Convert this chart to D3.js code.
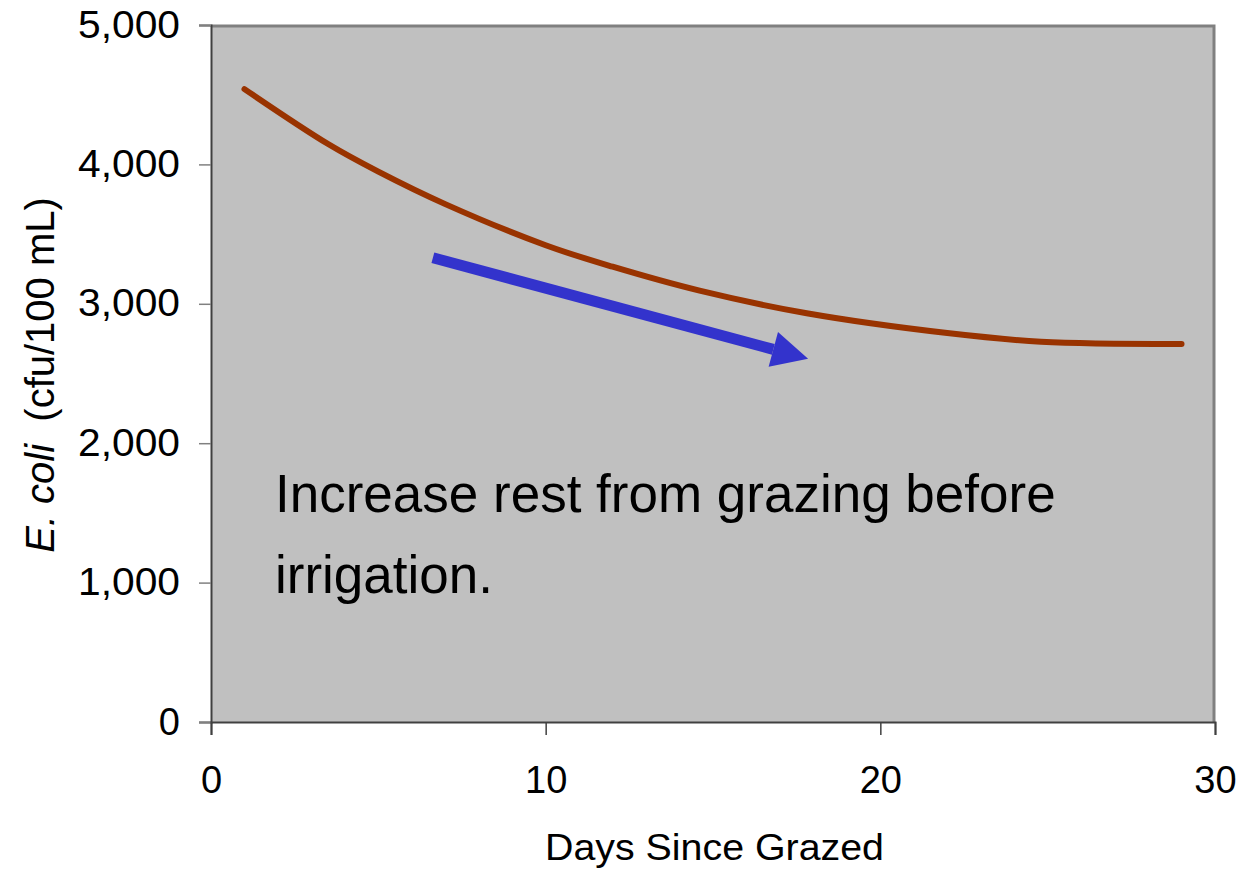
<!DOCTYPE html>
<html>
<head>
<meta charset="utf-8">
<script src="https://cdn.jsdelivr.net/npm/d3@7"></script>
<style>
  html, body { margin: 0; padding: 0; background: #fff; }
  svg { display: block; font-family: "Liberation Sans", Arial, sans-serif; }
</style>
</head>
<body>
<svg id="chart" width="1251" height="871"></svg>
<script>
// ---------- data ----------
const days = [1, 3.5, 5, 7, 10, 12, 14.6, 17.8, 22, 24.8, 29];
const ecoli = [4540, 4146, 3948, 3715, 3420, 3266, 3094, 2932, 2790, 2728, 2712];
const xTicks = [0, 10, 20, 30];
const yTicks = [0, 1000, 2000, 3000, 4000, 5000];
const arrowFrom = [6.63, 3330];
const arrowTo = [17.87, 2604];
const noteLines = ["Increase rest from grazing before", "irrigation."];

const svg = d3.select("#chart");
const plot = { left: 211, top: 25, right: 1215, bottom: 722 };

const x = d3.scaleLinear().domain([0, 30]).range([plot.left, plot.right]);
const y = d3.scaleLinear().domain([0, 5000]).range([plot.bottom, plot.top]);

// plot area
svg.append("rect")
  .attr("x", plot.left).attr("y", plot.top)
  .attr("width", plot.right - plot.left).attr("height", plot.bottom - plot.top)
  .attr("fill", "#c0c0c0");
// top + right frame (gray)
svg.append("path")
  .attr("d", `M${plot.left},${plot.top + 1}H${plot.right - 1}V${plot.bottom}`)
  .attr("fill", "none").attr("stroke", "#808080").attr("stroke-width", 3);

// axes
const yAxis = d3.axisLeft(y).tickValues(yTicks).tickSize(12).tickPadding(19)
  .tickFormat(d3.format(","));
const xAxis = d3.axisBottom(x).tickValues(xTicks).tickSize(13).tickPadding(31);

const gy = svg.append("g").attr("transform", `translate(${plot.left},0)`).call(yAxis);
const gx = svg.append("g").attr("transform", `translate(0,${plot.bottom})`).call(xAxis);
[gx, gy].forEach((g) => {
  g.select(".domain").attr("stroke", "#404040").attr("stroke-width", 2);
  g.selectAll(".tick line").attr("stroke", "#404040").attr("stroke-width", 1.5);
  g.selectAll(".tick text").attr("fill", "#000").attr("font-size", 38)
    .attr("font-family", "Liberation Sans, Arial, sans-serif");
});
gy.selectAll(".tick line").attr("stroke", "#808080");
gy.selectAll(".tick text").attr("textLength", (d) => (d === 0 ? null : 102))
  .attr("lengthAdjust", "spacingAndGlyphs");

// curve
svg.append("path")
  .datum(days.map((d, i) => [d, ecoli[i]]))
  .attr("fill", "none")
  .attr("stroke", "#993300")
  .attr("stroke-width", 6)
  .attr("stroke-linecap", "round")
  .attr("stroke-linejoin", "round")
  .attr("d", d3.line().x((d) => x(d[0])).y((d) => y(d[1])).curve(d3.curveCatmullRom));

// arrow
svg.append("defs").append("marker")
  .attr("id", "head")
  .attr("viewBox", "0 0 10 10")
  .attr("refX", 0).attr("refY", 5)
  .attr("markerUnits", "userSpaceOnUse")
  .attr("markerWidth", 38).attr("markerHeight", 36)
  .attr("orient", "auto")
  .append("path").attr("d", "M0,0L10,5L0,10Z").attr("fill", "#3333cc");

const ax0 = x(arrowFrom[0]), ay0 = y(arrowFrom[1]);
const ax1 = x(arrowTo[0]), ay1 = y(arrowTo[1]);
const ang = Math.atan2(ay1 - ay0, ax1 - ax0);
svg.append("line")
  .attr("x1", ax0).attr("y1", ay0)
  .attr("x2", ax1 - 37 * Math.cos(ang)).attr("y2", ay1 - 37 * Math.sin(ang))
  .attr("stroke", "#3333cc").attr("stroke-width", 11)
  .attr("marker-end", "url(#head)");

// annotation
svg.append("text")
  .attr("font-size", 53)
  .selectAll("tspan")
  .data(noteLines)
  .join("tspan")
  .attr("x", 275)
  .attr("y", (d, i) => 512 + i * 81)
  .text((d) => d);

// axis titles
svg.append("text")
  .attr("x", 545).attr("y", 860)
  .attr("font-size", 37)
  .attr("textLength", 339).attr("lengthAdjust", "spacingAndGlyphs")
  .text("Days Since Grazed");

const yt = svg.append("text")
  .attr("transform", "translate(54,375) rotate(-90)")
  .attr("text-anchor", "middle").attr("font-size", 40);
yt.append("tspan").attr("font-style", "italic").text("E. coli");
yt.append("tspan").text("\u00a0 (cfu/100 mL)");
</script>
</body>
</html>
